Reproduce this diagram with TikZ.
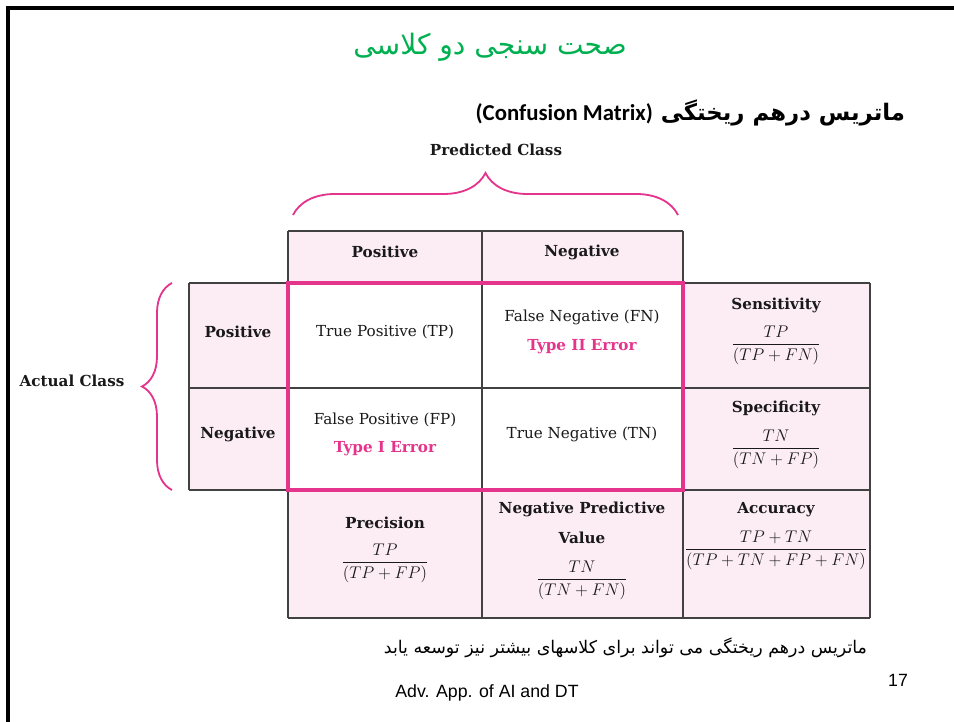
\documentclass[tikz,border=0pt]{standalone}
\usepackage{fontspec}
\usepackage{amsmath}
\usetikzlibrary{decorations.pathreplacing}
\setmainfont{DejaVu Serif}
\newfontfamily\arabicfont[Script=Arabic]{DejaVu Sans}
\newfontfamily\calibrifont{Carlito}
\newfontfamily\arialfont{Liberation Sans}
\TeXXeTstate=1
\definecolor{cmpink}{RGB}{228,52,140}
\definecolor{cellpink}{RGB}{252,237,245}
\definecolor{gridgray}{RGB}{65,65,65}
\definecolor{titlegreen}{RGB}{0,176,80}

\begin{document}
\begin{tikzpicture}[x=0.025cm,y=-0.025cm,
  grid/.style={draw=gridgray,line width=1.1pt},
  lbl/.style={font=\fontsize{10.8}{13}\selectfont,text=black!90},
  head/.style={font=\fontsize{10.8}{13}\selectfont\bfseries,text=black!90},
  err/.style={font=\fontsize{10.8}{13}\selectfont\bfseries,text=cmpink},
  frm/.style={font=\fontsize{12.5}{15}\selectfont,text=black!90},
  curly/.style={decorate,decoration={brace,amplitude=#1},draw=cmpink,line width=1.3pt}]
  \useasboundingbox (0,0) rectangle (954,722);
  \draw[line width=2.2pt] (8,722) -- (8,8) -- (954,8);
  % headings
  \node[font=\fontsize{20}{24}\selectfont\arabicfont,text=titlegreen] (title) at (490,47) {\beginR صحت سنجی دو کلاسی\endR};
  \node[anchor=east,font=\fontsize{16.2}{19}\selectfont\bfseries] (subtitle) at (910,113) {{\calibrifont (Confusion Matrix)} {\arabicfont\beginR ماتریس درهم ریختگی\endR}};
  % shaded cells
  \fill[cellpink] (288,231) rectangle (683,283);
  \fill[cellpink] (189,283) rectangle (288,490);
  \fill[cellpink] (683,283) rectangle (870,618);
  \fill[cellpink] (288,490) rectangle (683,618);
  % grid
  \draw[grid] (288,231) -- (683,231);
  \draw[grid] (189,283) -- (870,283);
  \draw[grid] (189,388) -- (870,388);
  \draw[grid] (189,490) -- (870,490);
  \draw[grid] (288,618) -- (870,618);
  \draw[grid] (189,283) -- (189,490);
  \draw[grid] (288,231) -- (288,618);
  \draw[grid] (482,231) -- (482,618);
  \draw[grid] (683,231) -- (683,618);
  \draw[grid] (870,283) -- (870,618);
  \draw[cmpink,line width=2.2pt] (288,283) rectangle (683,490);
  %Braces:
  \draw[curly=1.05cm] (293,215) -- (678,215);
  \draw[curly=0.75cm] (172,490) -- (172,283);
  \node[head] (predlbl) at (496,150) {Predicted Class};
  \node[head] (actlbl) at (72,381) {Actual Class};
  \node[head] (colpos) at (385,252) {Positive};
  \node[head] (colneg) at (582,252) {Negative};
  \node[head] (rowpos) at (238,332) {Positive};
  \node[head] (rowneg) at (238,434) {Negative};
  % inner cells
  \node[lbl] (tp) at (385,332) {True Positive (TP)};
  \node[lbl] (fn) at (582,317) {False Negative (FN)};
  \node[err] (fnerr) at (582,347) {Type II Error};
  \node[lbl] (fp) at (385,420) {False Positive (FP)};
  \node[err] (fperr) at (385,449) {Type I Error};
  \node[lbl] (tn) at (582,434) {True Negative (TN)};
  % rates
  \node[head] (sens) at (776,305) {Sensitivity};
  \node[frm] (sensf) at (776,345) {$\dfrac{TP}{(TP+FN)}$};
  \node[head] (spec) at (776,408) {Specificity};
  \node[frm] (specf) at (776,449) {$\dfrac{TN}{(TN+FP)}$};
  \node[head] (acc) at (776,510) {Accuracy};
  \node[frm] (accf) at (776,550) {$\dfrac{TP+TN}{(TP+TN+FP+FN)}$};
  \node[head] (prec) at (385,523) {Precision};
  \node[frm] (precf) at (385,563) {$\dfrac{TP}{(TP+FP)}$};
  \node[head] (npv) at (582,509) {Negative Predictive};
  \node[head] (npvb) at (582,538) {Value};
  \node[frm] (npvf) at (582,580) {$\dfrac{TN}{(TN+FN)}$};
  % footer
  \node[anchor=east,font=\fontsize{12.4}{14}\selectfont\arabicfont] (note) at (872,648) {\beginR ماتریس درهم ریختگی می تواند برای کلاسهای بیشتر نیز توسعه یابد\endR};
  \node[font=\fontsize{12.6}{15}\selectfont\arialfont] (pagenum) at (898,680) {17};
  \node[font=\fontsize{12.6}{15}\selectfont\arialfont] (footer) at (487,693) {Adv. App. of AI and DT};
\end{tikzpicture}
\end{document}
